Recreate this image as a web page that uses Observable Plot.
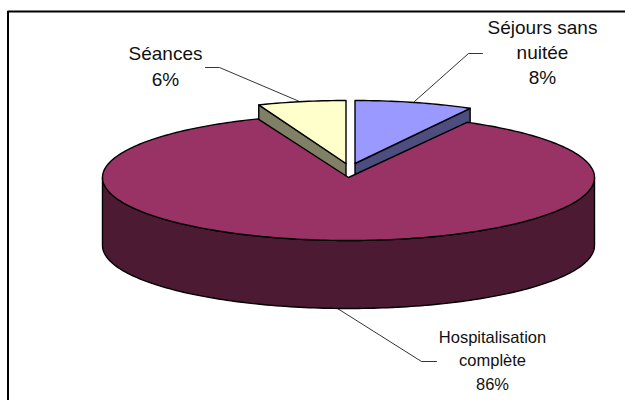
<!DOCTYPE html>
<html><head><meta charset="utf-8">
<script src="https://cdn.jsdelivr.net/npm/d3@7"></script>
<script src="https://cdn.jsdelivr.net/npm/@observablehq/plot@0.6"></script>
<style>html,body{margin:0;padding:0;background:#fff}svg{display:block}</style>
</head><body><div id="chart"></div>
<script>
// Data
const categories = ["Séjours sans nuitée", "Hospitalisation complète", "Séances"];
const shares = [8, 86, 6];
const labelLines = [["Séjours sans", "nuitée", "8%"], ["Hospitalisation", "complète", "86%"], ["Séances", "6%"]];
// Styles
const topColors = ["#9999ff", "#993366", "#ffffcc"];
const wallColors = ["#4d4d80", "#4d1a33", "#808066"];
const labelSizes = [19, 16.5, 19];
// Layout (pixels)
const W = 625, H = 400, cx = 348, cy = 177, ry = 63, depth = 68;
const radiusX = [239, 246, 237];
const explode = [[6.5, -14], [0, 0], [-2.5, -14]];
const labelPos = [[542, 27, 25], [492, 337, 23.5], [165, 53, 26]];
const leaderPos = [
  [[482, 53], [468, 53], [414, 101]],
  [[436, 361], [421, 361], [337, 308]],
  [[205, 67], [219, 67], [299, 101]]
];
const frameLeft = 7.5, frameTop = 11;

const total = d3.sum(shares);
let acc = 0;
const slices = shares.map((v, i) => {
  const a0 = acc / total * 2 * Math.PI; acc += v; const a1 = acc / total * 2 * Math.PI;
  return {i, a0, a1, ox: explode[i][0], oy: explode[i][1], rx: radiusX[i]};
});
const arcPts = (s, a0, a1, dz = 0) => {
  const n = Math.max(2, Math.ceil((a1 - a0) / 0.02)), out = [];
  for (let k = 0; k <= n; k++) {
    const a = a0 + (a1 - a0) * k / n;
    out.push([cx + s.ox + s.rx * Math.sin(a), cy + s.oy - ry * Math.cos(a) + dz]);
  }
  return out;
};
const shapes = [];
let nextId = 0;
const add = (pts, fill) => { const id = nextId++; [...pts, pts[0]].forEach(([x, y]) => shapes.push({id, x, y, fill})); };
const apex = s => [cx + s.ox, cy + s.oy];
const drawSmall = s => {
  const c0 = arcPts(s, s.a0, s.a0)[0], c1 = arcPts(s, s.a1, s.a1)[0], ap = apex(s);
  // cut wall below the lower straight edge of the slice
  const edge = s.i === 0 ? c1 : c0;
  add([ap, edge, [edge[0], edge[1] + depth], [ap[0], ap[1] + depth]], wallColors[s.i]);
  add([ap, ...arcPts(s, s.a0, s.a1)], topColors[s.i]);
};
drawSmall(slices[2]);
drawSmall(slices[0]);
const m = slices[1];
// outer wall of the big slice: visible from 3 o'clock round to 9 o'clock
const upperArc = arcPts(m, Math.PI / 2, 3 * Math.PI / 2);
const lowerArc = arcPts(m, Math.PI / 2, 3 * Math.PI / 2, depth).reverse();
add([...upperArc, ...lowerArc], wallColors[1]);
add([apex(m), ...arcPts(m, m.a0, m.a1)], topColors[1]);

const leaders = leaderPos.flatMap((l, id) => l.map(([x, y]) => ({id, x, y})));
const labels = labelLines.flatMap((ls, i) => ls.map((t, j) => ({t, size: labelSizes[i], x: labelPos[i][0], y: labelPos[i][1] + j * labelPos[i][2]})));

const chart = Plot.plot({
  width: W, height: H,
  marginLeft: 0, marginTop: 0, marginRight: 0, marginBottom: 0,
  x: {domain: [0, W], axis: null},
  y: {domain: [H, 0], axis: null},
  style: {background: "#fff", fontFamily: "'Liberation Sans', Arial, sans-serif"},
  marks: [
    Plot.ruleX([frameLeft], {y1: frameTop, y2: H, stroke: "#000", strokeWidth: 2}),
    Plot.ruleY([frameTop], {x1: frameLeft, x2: W, stroke: "#000", strokeWidth: 2}),
    Plot.line(shapes, {x: "x", y: "y", z: "id", fill: "fill", stroke: "#000", strokeWidth: 1.4, curve: "linear", strokeLinejoin: "round"}),
    Plot.line(leaders, {x: "x", y: "y", z: "id", stroke: "#000", strokeWidth: 0.8, curve: "linear"}),
    Plot.text(labels, {x: "x", y: "y", text: "t", fontSize: "size", fill: "#111", textAnchor: "middle", lineAnchor: "middle"})
  ]
});
document.getElementById("chart").appendChild(chart);
</script></body></html>
